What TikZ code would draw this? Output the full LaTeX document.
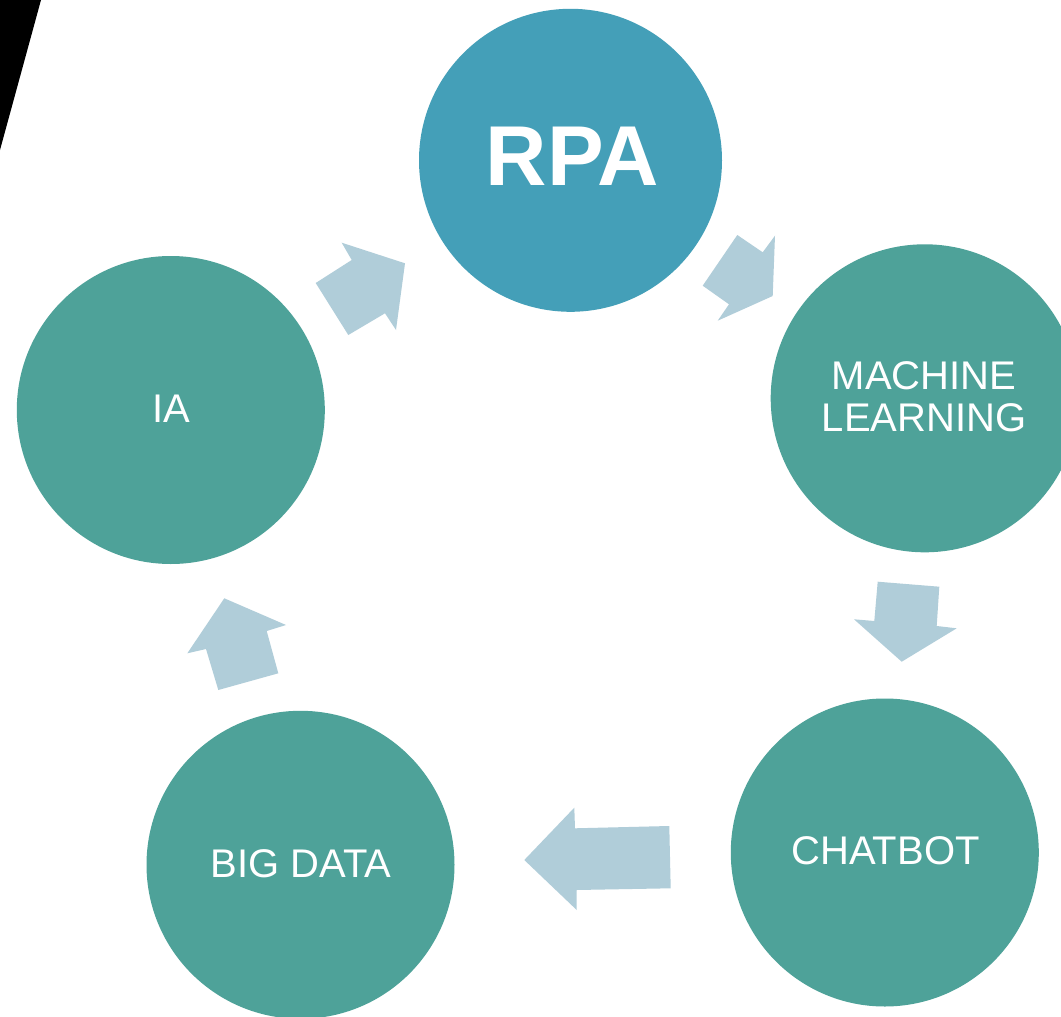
\documentclass[tikz,border=0pt]{standalone}
\usepackage{fontspec}
\setmainfont{Liberation Sans}
\definecolor{teal1}{HTML}{4EA299}
\definecolor{rpablue}{HTML}{449FB8}
\definecolor{arrowblue}{HTML}{B0CDD9}
\begin{document}
\begin{tikzpicture}[x=1pt,y=-1pt,
  bubble/.style={circle,fill=teal1,draw=none,inner sep=0pt,minimum size=308pt},
  lbl/.style={text=white,inner sep=0pt,align=center,font=\fontsize{40}{42.7}\selectfont},
  blockarrow/.style={fill=arrowblue,draw=none}]
\useasboundingbox (0,0) rectangle (1061,1017);
\clip (0,0) rectangle (1061,1017);
\fill[white] (0,0) rectangle (1061,1017);
% black corner shape
\fill[black] (0,0) -- (41,0) -- (0,150) -- cycle;
% circles
\node[bubble,fill=rpablue,minimum size=303pt] (rpa) at (570.5,160.3) {};
\node[bubble] (ml) at (924.7,398.3) {};
\node[bubble] (chat) at (884.8,852.5) {};
\node[bubble] (big) at (300.5,864.8) {};
\node[bubble] (ia) at (170.8,410) {};
% labels
\node[lbl,font=\fontsize{85}{90}\selectfont\bfseries] (trpa) at (572.5,156) {RPA};
\node[lbl] (tml) at (924,396.7) {MACHINE\\LEARNING};
\node[lbl] (tchat) at (885.5,850.8) {CHATBOT};
\node[lbl] (tbig) at (300.8,863.8) {BIG DATA};
\node[lbl] (tia) at (171.7,408.7) {IA};
% block arrows
\fill[blockarrow] (315.7,283) -- (351.7,260) -- (341.7,242.7) -- (405,263.3) -- (396,330) -- (385,313.3) -- (348.3,335) -- cycle;
\fill[blockarrow] (737.3,235) -- (762.7,252.3) -- (775,235.7) -- (772.7,296) -- (717.7,320.7) -- (729,304.3) -- (702.7,285.7) -- cycle;
\fill[blockarrow] (877.7,581.7) -- (939.3,586.7) -- (936.7,626) -- (956.7,628.3) -- (901.7,661.7) -- (854,619.3) -- (874.3,621) -- cycle;
\fill[blockarrow] (669.3,826) -- (670.7,888.3) -- (576.7,890) -- (576.7,910) -- (524.3,860) -- (574.3,807.7) -- (575,828.3) -- cycle;
\fill[blockarrow] (218.3,690) -- (278.3,673.3) -- (266.7,631) -- (286,625) -- (224.3,598.3) -- (187.3,653.3) -- (206,649) -- cycle;
\end{tikzpicture}
\end{document}
